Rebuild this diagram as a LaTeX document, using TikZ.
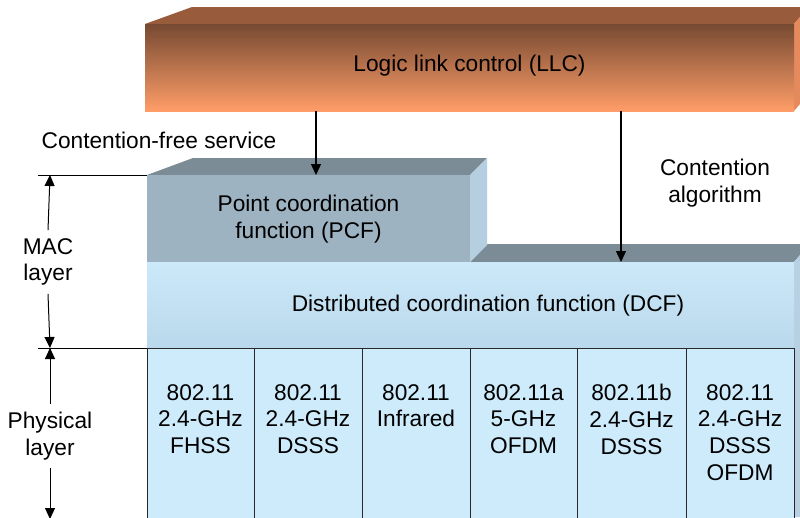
\documentclass[tikz,border=0pt]{standalone}
\usepackage{fontspec}
\setmainfont{Liberation Sans}
\usetikzlibrary{arrows.meta}
\definecolor{llctop}{RGB}{152,92,60}
\definecolor{llcfa}{RGB}{118,74,50}
\definecolor{llcfb}{RGB}{205,125,85}
\definecolor{llcfc}{RGB}{255,157,104}
\definecolor{llcside}{RGB}{229,138,93}
\definecolor{pcffront}{RGB}{157,179,194}
\definecolor{greytop}{RGB}{123,140,151}
\definecolor{pcfside}{RGB}{181,207,225}
\definecolor{dcfa}{RGB}{204,233,250}
\definecolor{dcfb}{RGB}{186,216,235}
\definecolor{cellfill}{RGB}{205,235,251}
\definecolor{dcfside}{RGB}{184,209,226}
\definecolor{celledge}{RGB}{40,40,40}
\tikzset{
  lbl/.style={font=\fontsize{22.7}{26.7}\selectfont, inner sep=0pt, align=center, text=black},
  face/.style={inner sep=0pt, outer sep=0pt},
  cellbox/.style={draw=celledge, line width=0.8pt, fill=cellfill, inner sep=0pt, outer sep=0pt, minimum height=175pt},
  arr/.style={line width=1.3pt, -{Triangle[length=11pt,width=10pt]}},
  dim/.style={line width=1pt},
  tipdim/.style={line width=1pt, -{Triangle[length=11pt,width=10pt]}}
}
\begin{document}
\begin{tikzpicture}[x=1pt,y=-1pt]
\clip (0,0) rectangle (800,517);
\fill[white] (0,0) rectangle (800,517);

% LLC block
\fill[llctop] (145,24) -- (192,7) -- (800,7) -- (800,17) -- (794,24) -- cycle;
\fill[llcside] (794,24) -- (800,17) -- (800,104) -- (794,111) -- cycle;
\node[face, minimum width=649pt, minimum height=87pt, top color=llcfa, middle color=llcfb, bottom color=llcfc, anchor=north west] (llc) at (145,24) {};
\node[lbl] (llctext) at (469.5,66) {Logic link control (LLC)};

% DCF block (top face and side)
\fill[greytop] (470,262) -- (487,244) -- (800,244) -- (800,255) -- (794,262) -- cycle;
\fill[dcfside] (794,262) -- (800,255) -- (800,517) -- (794,517) -- cycle;
\node[face, minimum width=647pt, minimum height=86pt, top color=dcfa, bottom color=dcfb, anchor=north west] (dcf) at (147,262) {};
\node[lbl] (dcftext) at (488,306) {Distributed coordination function (DCF)};

% PCF block
\fill[greytop] (147,175) -- (193,158) -- (487,158) -- (470,175) -- cycle;
\fill[pcfside] (470,175) -- (487,158) -- (487,245) -- (470,262) -- cycle;
\node[face, minimum width=323pt, minimum height=87pt, fill=pcffront, anchor=north west] (pcf) at (147,175) {};
\node[lbl] (pcftext) at (308.5,219) {Point coordination\\function (PCF)};

% Physical cells
\node[cellbox, minimum width=107pt, anchor=north west] (c1) at (147,348) {};
\node[cellbox, minimum width=108pt, anchor=north west] (c2) at (254,348) {};
\node[cellbox, minimum width=108pt, anchor=north west] (c3) at (362,348) {};
\node[cellbox, minimum width=107pt, anchor=north west] (c4) at (470,348) {};
\node[cellbox, minimum width=109pt, anchor=north west] (c5) at (577,348) {};
\node[cellbox, minimum width=108pt, anchor=north west] (c6) at (686,348) {};

\node[lbl, anchor=north] (t1) at ([yshift=-36pt]c1.north) {802.11\\2.4-GHz\\FHSS};
\node[lbl, anchor=north] (t2) at ([yshift=-36pt]c2.north) {802.11\\2.4-GHz\\DSSS};
\node[lbl, anchor=north] (t3) at ([yshift=-36pt]c3.north) {802.11\\Infrared};
\node[lbl, anchor=north] (t4) at ([yshift=-36pt]c4.north) {802.11a\\5-GHz\\OFDM};
\node[lbl, anchor=north] (t5) at ([yshift=-36pt]c5.north) {802.11b\\2.4-GHz\\DSSS};
\node[lbl, anchor=north] (t6) at ([yshift=-36pt]c6.north) {802.11\\2.4-GHz\\DSSS\\OFDM};

% labels
\node[lbl] (cfs) at (159,140) {Contention-free service};
\node[lbl] (calg) at (715,183) {Contention\\algorithm};

% arrows from LLC
\coordinate (ax1) at (316,0);
\coordinate (ax2) at (621,0);
\draw[arr] (llc.south -| ax1) -- (pcf.north -| ax1);
\draw[arr] (llc.south -| ax2) -- (dcf.north -| ax2);

% left dimension lines
\coordinate (g1) at (38,175);
\coordinate (g2) at (38,348);
\coordinate (macTop) at (50,175);
\coordinate (layMid) at (50,348);
\coordinate (phyBot) at (50,519);
\draw[dim] (g1) -- (pcf.north west);
\draw[dim] (g2) -- (c1.north west);

\node[lbl, inner ysep=8pt] (mac) at (48,262) {MAC\\layer};
\node[lbl, inner ysep=8pt] (phy) at (50,436) {Physical\\layer};
\draw[tipdim] (mac.north) -- (macTop);
\draw[tipdim] (mac.south) -- (layMid);
\draw[tipdim] (phy.north) -- (layMid);
\draw[tipdim] (phy.south) -- (phyBot);
\end{tikzpicture}
\end{document}
